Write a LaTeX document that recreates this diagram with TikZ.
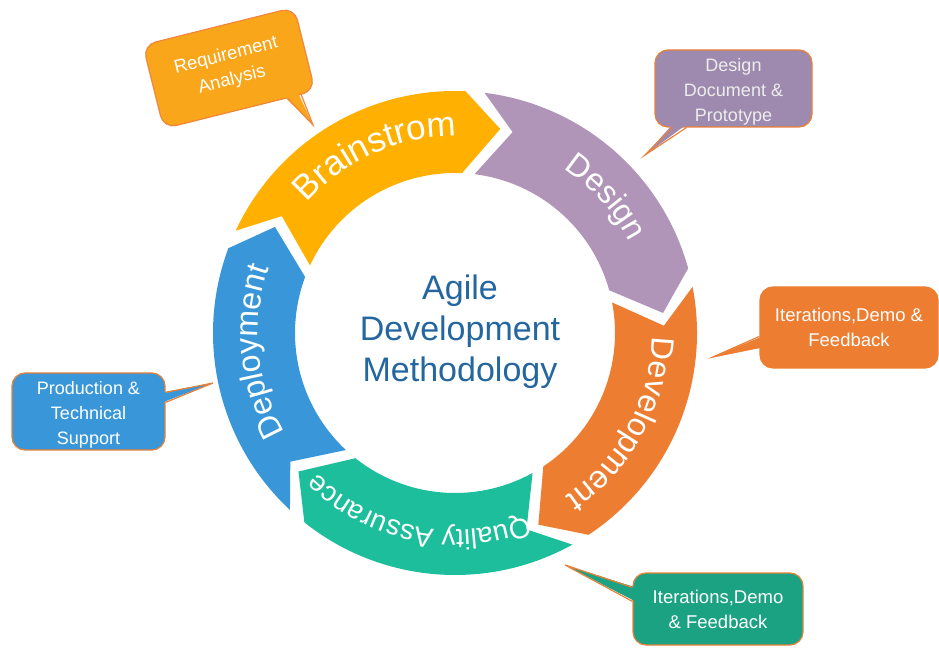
\documentclass[tikz,border=0pt]{standalone}
\usepackage{fontspec}
\setmainfont{Liberation Sans}
\usetikzlibrary{calc,decorations.text}
\definecolor{cBrain}{RGB}{255,176,0}
\definecolor{cDesign}{RGB}{176,149,184}
\definecolor{cDev}{RGB}{237,125,49}
\definecolor{cQA}{RGB}{29,190,155}
\definecolor{cDep}{RGB}{57,151,217}
\definecolor{cReqBox}{RGB}{250,166,26}
\definecolor{cReqLine}{RGB}{240,135,60}
\definecolor{cDesBox}{RGB}{158,138,174}
\definecolor{cQABox}{RGB}{26,162,130}
\definecolor{cLine}{RGB}{232,128,56}
\definecolor{cCenter}{RGB}{35,102,160}
\newcommand\sgBig{\fontsize{35}{35}\selectfont}
\newcommand\sgMid{\fontsize{32}{32}\selectfont}
\newcommand\sgQA{\fontsize{28}{28}\selectfont}
\begin{document}
\begin{tikzpicture}[x=1pt,y=1pt,
  callbox/.style={rounded corners=13pt, line width=1.2pt, align=center, text=white,
    font=\fontsize{18.5}{25}\selectfont, inner sep=0pt},
  seglabel/.style={decorate, decoration={text along path, text align=center, text color=white}}]
\useasboundingbox (0,0) rectangle (939,648);
\coordinate (C) at (455,315);
% ring segments
\foreach \T/\col in {155/cBrain, 83/cDesign, 11/cDev, -61/cQA, -133/cDep} {
  \pgfmathsetmacro\H{\T-67.5}
  \pgfmathsetmacro\P{\T-77.5}
  \pgfmathsetmacro\N{\T-9}
  \fill[\col] ([shift={(C)}]\T:242) arc[start angle=\T, end angle=\H, radius=242pt]
    -- ([shift={(C)}]\P:209) -- ([shift={(C)}]\H:160)
    arc[start angle=\H, end angle=\T, radius=160pt]
    -- ([shift={(C)}]\N:209) -- cycle;
}
% segment labels
\path[seglabel, decoration={text={|\sgBig|Brainstrom}}]
  ([shift={(C)}]164:197) arc[start angle=164, end angle=64, radius=197pt];
\path[seglabel, decoration={text={|\sgMid|Design}}]
  ([shift={(C)}]82:197) arc[start angle=82, end angle=2, radius=197pt];
\path[seglabel, decoration={text={|\sgMid|Development}}]
  ([shift={(C)}]21.5:197) arc[start angle=21.5, end angle=-78.5, radius=197pt];
\path[seglabel, decoration={text={|\sgQA|Quality Assurance}}]
  ([shift={(C)}]-46.5:197) arc[start angle=-46.5, end angle=-156.5, radius=197pt];
\path[seglabel, decoration={text={|\sgMid|Deployment}}]
  ([shift={(C)}]235.5:197) arc[start angle=235.5, end angle=135.5, radius=197pt];
% centre title
\node[text=cCenter, align=center, font=\fontsize{34}{41}\selectfont] (title) at (460,316)
  {Agile\\Development\\Methodology};
% Requirement Analysis callout
\node[callbox, fill=cReqBox, draw=cReqLine, minimum width=156pt, minimum height=86pt,
  rotate=14, font=\fontsize{18.5}{25}\selectfont] (req) at (229,580) {Requirement\\Analysis};
\coordinate (reqtip) at (313,523);
\coordinate (reqa) at ($(req.south)!0.63!(req.south east)$);
\coordinate (reqb) at ($(req.south)!0.81!(req.south east)$);
\fill[cReqBox] ($(reqa)!3pt!(req.center)$) -- (reqtip) -- ($(reqb)!3pt!(req.center)$) -- cycle;
\draw[cReqLine, line width=1.2pt] (reqa) -- (reqtip) -- (reqb);
% Design callout
\node[callbox, fill=cDesBox, draw=cLine, minimum width=157pt, minimum height=77pt,
  text=white!93!black, text depth=0pt] (des) at (733.5,559.5) {};
\node[text=white!93!black, align=center, font=\fontsize{18}{25}\selectfont] (destext)
  at (733.5,556.5) {Design\\Document \&\\Prototype};
\coordinate (destip) at (645,493);
\fill[cDesBox] ($(des.south west)+(18,3)$) -- (destip) -- ($(des.south west)+(32,3)$) -- cycle;
\draw[cLine, line width=1.2pt] ($(des.south west)+(18,0)$) -- (destip) -- ($(des.south west)+(32,0)$);
% Development callout
\node[callbox, fill=cDev, draw=cDev, minimum width=178pt, minimum height=81pt] (dev)
  at (849,320.5) {Iterations,Demo \&\\Feedback};
\coordinate (devtip) at (713,291);
\fill[cDev] ($(dev.north west)+(3,-50)$) -- (devtip) -- ($(dev.north west)+(3,-61)$) -- cycle;
\draw[cDev, line width=1.2pt] ($(dev.north west)+(0,-50)$) -- (devtip) -- ($(dev.north west)+(0,-61)$);
% QA callout
\node[callbox, fill=cQABox, draw=cLine, minimum width=170pt, minimum height=72pt] (qa)
  at (718,39) {Iterations,Demo\\\& Feedback};
\coordinate (qatip) at (565,83);
\fill[cQABox] ($(qa.north west)+(3,-15)$) -- (qatip) -- ($(qa.north west)+(3,-29)$) -- cycle;
\draw[cLine, line width=1.2pt] ($(qa.north west)+(0,-15)$) -- (qatip) -- ($(qa.north west)+(0,-29)$);
% Deployment callout
\node[callbox, fill=cDep, draw=cLine, minimum width=153pt, minimum height=77pt] (dep)
  at (88.5,236.5) {};
\node[text=white, align=center, font=\fontsize{18}{25}\selectfont] (deptext)
  at (88.5,233) {Production \&\\Technical\\Support};
\coordinate (deptip) at (213,265);
\fill[cDep] ($(dep.north east)+(-3,-20)$) -- (deptip) -- ($(dep.north east)+(-3,-30)$) -- cycle;
\draw[cLine, line width=1.2pt] ($(dep.north east)+(0,-20)$) -- (deptip) -- ($(dep.north east)+(0,-30)$);
\end{tikzpicture}
\end{document}
